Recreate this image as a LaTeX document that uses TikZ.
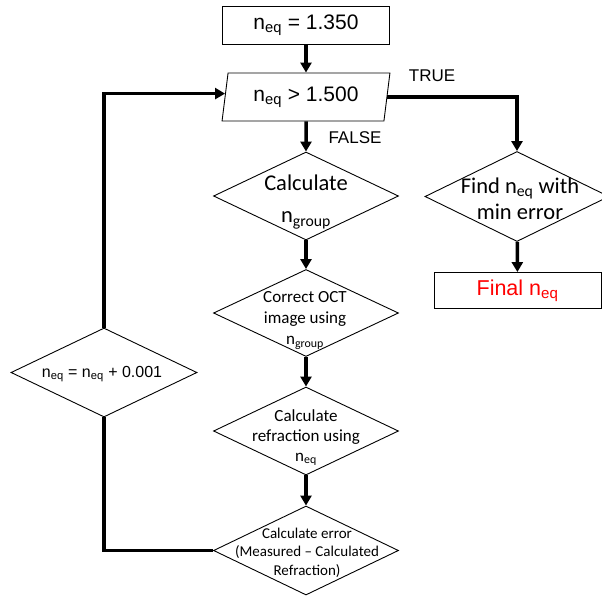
\documentclass[tikz,border=0pt]{standalone}
\usepackage{fontspec}
\setmainfont{Liberation Sans}
\newfontfamily\calibri{Carlito}
\usetikzlibrary{shapes.geometric,arrows.meta,calc}

\begin{document}
\begin{tikzpicture}[x=1pt, y=-1pt,
  box/.style={draw, line width=0.9pt, inner sep=0pt},
  dia/.style={draw, diamond, line width=0.9pt, inner sep=0pt},
  txt/.style={align=center, inner sep=0pt}]
\useasboundingbox (0,0) rectangle (602,595);

  \node[box, minimum width=167, minimum height=38, font=\fontsize{21}{25}\selectfont] (init) at (306,25) {n\textsubscript{eq} = 1.350};
  \node[box, trapezium, trapezium left angle=79, trapezium right angle=101, trapezium stretches=true,
        minimum width=168, minimum height=48, font=\fontsize{21}{25}\selectfont] (cond) at (306,97) {n\textsubscript{eq} > 1.500};
  \node[txt, font=\fontsize{17}{20}\selectfont] (tlab) at (432,76) {TRUE};
  \node[txt, font=\fontsize{17}{20}\selectfont] (flab) at (355,137.5) {FALSE};

  \node[dia, minimum width=185, minimum height=88] (ngrp) at (306,196) {};
  \node[txt, font=\calibri\fontsize{22.5}{32}\selectfont] (ngrpt) at (306,202) {Calculate\\n\textsubscript{group}};

  \node[dia, minimum width=184, minimum height=90] (find) at (517,196.5) {};
  \node[txt, font=\calibri\fontsize{22.5}{26}\selectfont] (findt) at (520,199) {Find n\textsubscript{eq} with\\min error};

  \node[box, minimum width=167, minimum height=36, text=red, font=\fontsize{21.5}{25}\selectfont] (final) at (517.5,290.5) {Final n\textsubscript{eq}};

  \node[dia, minimum width=185, minimum height=87] (oct) at (306,313) {};
  \node[txt, font=\calibri\fontsize{17}{21}\selectfont] (octt) at (305,320.5) {Correct OCT\\image using\\n\textsubscript{group}};

  \node[dia, minimum width=185, minimum height=88] (refr) at (306,431) {};
  \node[txt, font=\calibri\fontsize{17}{20}\selectfont] (refrt) at (306,437.5) {Calculate\\refraction using\\n\textsubscript{eq}};

  \node[dia, minimum width=185, minimum height=89] (err) at (306,550.5) {};
  \node[txt, font=\calibri\fontsize{15}{18.5}\selectfont] (errt) at (307,552.5) {Calculate error\\(Measured – Calculated\\Refraction)};

  \node[dia, minimum width=186, minimum height=89] (upd) at (104,372.5) {};
  \node[txt, font=\fontsize{16}{19}\selectfont] (updt) at (102,374) {n\textsubscript{eq} = n\textsubscript{eq} + 0.001};

\coordinate (cin) at ($(cond.top left corner)!0.43!(cond.bottom left corner)$);

\begin{scope}[line width=3.5pt, -{Triangle[length=10pt,width=11pt]}]
  \draw (init) -- (cond);
  \draw (cond.east) -| (find.north);
  \draw (cond) -- (ngrp);
  \draw (find) -- (final);
  \draw (ngrp) -- (oct);
  \draw (oct) -- (refr);
  \draw (refr) -- (err);
  \draw[-] (err.west) -| (upd.south);
  \draw (upd.north) |- (cin);
\end{scope}

\end{tikzpicture}
\end{document}
